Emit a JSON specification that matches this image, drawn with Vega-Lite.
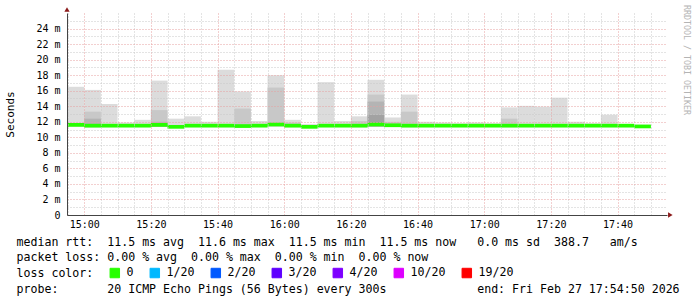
{
  "$schema": "https://vega.github.io/schema/vega-lite/v6.json",
  "width": 600,
  "height": 202,
  "autosize": {"type": "none"},
  "padding": {"left": 67, "top": 13, "right": 30, "bottom": 82},
  "background": "white",
  "config": {"view": {"stroke": null}},
  "title": {
    "text": "RRDTOOL / TOBI OETIKER",
    "orient": "right",
    "anchor": "start",
    "frame": "group",
    "angle": 90,
    "baseline": "middle",
    "offset": -1,
    "dx": -8,
    "font": "DejaVu Sans Mono",
    "fontSize": 8.3,
    "fontWeight": "normal",
    "color": "#b4b4b4"
  },
  "datasets": {
    "smoke": [
      {"t": "2026-02-27T14:55:00", "t2": "2026-02-27T15:00:00", "y": 11.35, "hi": 16.5},
      {"t": "2026-02-27T15:00:00", "t2": "2026-02-27T15:05:00", "y": 11.3, "hi": 16.1, "m1": 13.3, "m2": 12.4},
      {"t": "2026-02-27T15:05:00", "t2": "2026-02-27T15:10:00", "y": 11.3, "hi": 14.3},
      {"t": "2026-02-27T15:10:00", "t2": "2026-02-27T15:15:00", "y": 11.3, "hi": 11.9},
      {"t": "2026-02-27T15:15:00", "t2": "2026-02-27T15:20:00", "y": 11.3, "hi": 12.25},
      {"t": "2026-02-27T15:20:00", "t2": "2026-02-27T15:25:00", "y": 11.35, "hi": 17.3, "m1": 13.5, "m2": 12.0},
      {"t": "2026-02-27T15:25:00", "t2": "2026-02-27T15:30:00", "y": 11.15, "hi": 12.4},
      {"t": "2026-02-27T15:30:00", "t2": "2026-02-27T15:35:00", "y": 11.3, "hi": 12.7},
      {"t": "2026-02-27T15:35:00", "t2": "2026-02-27T15:40:00", "y": 11.3, "hi": 12.0},
      {"t": "2026-02-27T15:40:00", "t2": "2026-02-27T15:45:00", "y": 11.3, "hi": 18.7},
      {"t": "2026-02-27T15:45:00", "t2": "2026-02-27T15:50:00", "y": 11.25, "hi": 15.9, "m1": 13.7},
      {"t": "2026-02-27T15:50:00", "t2": "2026-02-27T15:55:00", "y": 11.3, "hi": 12.1},
      {"t": "2026-02-27T15:55:00", "t2": "2026-02-27T16:00:00", "y": 11.4, "hi": 18.0, "m1": 16.4},
      {"t": "2026-02-27T16:00:00", "t2": "2026-02-27T16:05:00", "y": 11.3, "hi": 12.25, "m1": 11.9},
      {"t": "2026-02-27T16:05:00", "t2": "2026-02-27T16:10:00", "y": 11.15, "hi": 11.7},
      {"t": "2026-02-27T16:10:00", "t2": "2026-02-27T16:15:00", "y": 11.3, "hi": 17.1},
      {"t": "2026-02-27T16:15:00", "t2": "2026-02-27T16:20:00", "y": 11.3, "hi": 12.1},
      {"t": "2026-02-27T16:20:00", "t2": "2026-02-27T16:25:00", "y": 11.3, "hi": 12.7, "m1": 12.1},
      {"t": "2026-02-27T16:25:00", "t2": "2026-02-27T16:30:00", "y": 11.4, "hi": 17.4, "m1": 15.5, "m2": 14.6, "m3": 12.9},
      {"t": "2026-02-27T16:30:00", "t2": "2026-02-27T16:35:00", "y": 11.35, "hi": 12.55, "m1": 12.0},
      {"t": "2026-02-27T16:35:00", "t2": "2026-02-27T16:40:00", "y": 11.3, "hi": 15.5, "m1": 13.3},
      {"t": "2026-02-27T16:40:00", "t2": "2026-02-27T16:45:00", "y": 11.3, "hi": 12.0},
      {"t": "2026-02-27T16:45:00", "t2": "2026-02-27T16:50:00", "y": 11.3, "hi": 11.9},
      {"t": "2026-02-27T16:50:00", "t2": "2026-02-27T16:55:00", "y": 11.3, "hi": 11.8},
      {"t": "2026-02-27T16:55:00", "t2": "2026-02-27T17:00:00", "y": 11.3, "hi": 11.9},
      {"t": "2026-02-27T17:00:00", "t2": "2026-02-27T17:05:00", "y": 11.3, "hi": 11.8},
      {"t": "2026-02-27T17:05:00", "t2": "2026-02-27T17:10:00", "y": 11.3, "hi": 13.85, "m1": 12.4},
      {"t": "2026-02-27T17:10:00", "t2": "2026-02-27T17:15:00", "y": 11.3, "hi": 14.05},
      {"t": "2026-02-27T17:15:00", "t2": "2026-02-27T17:20:00", "y": 11.3, "hi": 13.95},
      {"t": "2026-02-27T17:20:00", "t2": "2026-02-27T17:25:00", "y": 11.3, "hi": 15.1},
      {"t": "2026-02-27T17:25:00", "t2": "2026-02-27T17:30:00", "y": 11.3, "hi": 12.0},
      {"t": "2026-02-27T17:30:00", "t2": "2026-02-27T17:35:00", "y": 11.3, "hi": 11.8},
      {"t": "2026-02-27T17:35:00", "t2": "2026-02-27T17:40:00", "y": 11.3, "hi": 12.9},
      {"t": "2026-02-27T17:40:00", "t2": "2026-02-27T17:45:00", "y": 11.3, "hi": 11.7},
      {"t": "2026-02-27T17:45:00", "t2": "2026-02-27T17:50:00", "y": 11.2, "hi": 11.6}
    ],
    "median": [
      {"t": "2026-02-27T14:55:00", "t2": "2026-02-27T15:00:00", "y": 11.6, "loss": "0"},
      {"t": "2026-02-27T15:00:00", "t2": "2026-02-27T15:05:00", "y": 11.5, "loss": "0"},
      {"t": "2026-02-27T15:05:00", "t2": "2026-02-27T15:10:00", "y": 11.5, "loss": "0"},
      {"t": "2026-02-27T15:10:00", "t2": "2026-02-27T15:15:00", "y": 11.5, "loss": "0"},
      {"t": "2026-02-27T15:15:00", "t2": "2026-02-27T15:20:00", "y": 11.5, "loss": "0"},
      {"t": "2026-02-27T15:20:00", "t2": "2026-02-27T15:25:00", "y": 11.6, "loss": "0"},
      {"t": "2026-02-27T15:25:00", "t2": "2026-02-27T15:30:00", "y": 11.35, "loss": "0"},
      {"t": "2026-02-27T15:30:00", "t2": "2026-02-27T15:35:00", "y": 11.5, "loss": "0"},
      {"t": "2026-02-27T15:35:00", "t2": "2026-02-27T15:40:00", "y": 11.5, "loss": "0"},
      {"t": "2026-02-27T15:40:00", "t2": "2026-02-27T15:45:00", "y": 11.5, "loss": "0"},
      {"t": "2026-02-27T15:45:00", "t2": "2026-02-27T15:50:00", "y": 11.45, "loss": "0"},
      {"t": "2026-02-27T15:50:00", "t2": "2026-02-27T15:55:00", "y": 11.5, "loss": "0"},
      {"t": "2026-02-27T15:55:00", "t2": "2026-02-27T16:00:00", "y": 11.65, "loss": "0"},
      {"t": "2026-02-27T16:00:00", "t2": "2026-02-27T16:05:00", "y": 11.5, "loss": "0"},
      {"t": "2026-02-27T16:05:00", "t2": "2026-02-27T16:10:00", "y": 11.35, "loss": "0"},
      {"t": "2026-02-27T16:10:00", "t2": "2026-02-27T16:15:00", "y": 11.5, "loss": "0"},
      {"t": "2026-02-27T16:15:00", "t2": "2026-02-27T16:20:00", "y": 11.5, "loss": "0"},
      {"t": "2026-02-27T16:20:00", "t2": "2026-02-27T16:25:00", "y": 11.5, "loss": "0"},
      {"t": "2026-02-27T16:25:00", "t2": "2026-02-27T16:30:00", "y": 11.65, "loss": "0"},
      {"t": "2026-02-27T16:30:00", "t2": "2026-02-27T16:35:00", "y": 11.55, "loss": "0"},
      {"t": "2026-02-27T16:35:00", "t2": "2026-02-27T16:40:00", "y": 11.5, "loss": "0"},
      {"t": "2026-02-27T16:40:00", "t2": "2026-02-27T16:45:00", "y": 11.5, "loss": "0"},
      {"t": "2026-02-27T16:45:00", "t2": "2026-02-27T16:50:00", "y": 11.5, "loss": "0"},
      {"t": "2026-02-27T16:50:00", "t2": "2026-02-27T16:55:00", "y": 11.5, "loss": "0"},
      {"t": "2026-02-27T16:55:00", "t2": "2026-02-27T17:00:00", "y": 11.5, "loss": "0"},
      {"t": "2026-02-27T17:00:00", "t2": "2026-02-27T17:05:00", "y": 11.5, "loss": "0"},
      {"t": "2026-02-27T17:05:00", "t2": "2026-02-27T17:10:00", "y": 11.5, "loss": "0"},
      {"t": "2026-02-27T17:10:00", "t2": "2026-02-27T17:15:00", "y": 11.5, "loss": "0"},
      {"t": "2026-02-27T17:15:00", "t2": "2026-02-27T17:20:00", "y": 11.5, "loss": "0"},
      {"t": "2026-02-27T17:20:00", "t2": "2026-02-27T17:25:00", "y": 11.5, "loss": "0"},
      {"t": "2026-02-27T17:25:00", "t2": "2026-02-27T17:30:00", "y": 11.5, "loss": "0"},
      {"t": "2026-02-27T17:30:00", "t2": "2026-02-27T17:35:00", "y": 11.5, "loss": "0"},
      {"t": "2026-02-27T17:35:00", "t2": "2026-02-27T17:40:00", "y": 11.5, "loss": "0"},
      {"t": "2026-02-27T17:40:00", "t2": "2026-02-27T17:45:00", "y": 11.5, "loss": "0"},
      {"t": "2026-02-27T17:45:00", "t2": "2026-02-27T17:50:00", "y": 11.4, "loss": "0"}
    ],
    "arrows": [
      {"t": "2026-02-27T17:55:50", "y": 0, "shape": "triangle-right"},
      {"t": "2026-02-27T14:54:50", "y": 26.45, "shape": "triangle-up"}
    ]
  },
  "data": {"name": "smoke"},
  "encoding": {
    "x": {
      "field": "t",
      "type": "temporal",
      "scale": {
        "domain": [
          {"year": 2026, "month": 2, "date": 27, "hours": 14, "minutes": 54, "seconds": 50},
          {"year": 2026, "month": 2, "date": 27, "hours": 17, "minutes": 54, "seconds": 50}
        ],
        "nice": false
      },
      "axis": {
        "title": [
          "median\u00a0rtt:\u00a0\u00a011.5\u00a0ms\u00a0avg\u00a0\u00a011.6\u00a0ms\u00a0max\u00a0\u00a011.5\u00a0ms\u00a0min\u00a0\u00a011.5\u00a0ms\u00a0now\u00a0\u00a0\u00a00.0\u00a0ms\u00a0sd\u00a0\u00a0388.7\u00a0\u00a0\u00a0am/s",
          "packet\u00a0loss:\u00a00.00\u00a0%\u00a0avg\u00a0\u00a00.00\u00a0%\u00a0max\u00a0\u00a00.00\u00a0%\u00a0min\u00a0\u00a00.00\u00a0%\u00a0now",
          "loss\u00a0color:",
          "probe:\u00a0\u00a0\u00a0\u00a0\u00a0\u00a0\u00a020\u00a0ICMP\u00a0Echo\u00a0Pings\u00a0(56\u00a0Bytes)\u00a0every\u00a0300s\u00a0\u00a0\u00a0\u00a0\u00a0\u00a0\u00a0\u00a0\u00a0\u00a0\u00a0\u00a0\u00a0end:\u00a0Fri\u00a0Feb\u00a027\u00a017:54:50\u00a02026"
        ],
        "titleX": -51,
        "titleY": 30,
        "titleAlign": "left",
        "titleBaseline": "alphabetic",
        "titleFont": "DejaVu Sans Mono",
        "titleFontSize": 11.6,
        "titleFontWeight": "normal",
        "titleLineHeight": 15.7,
        "titleColor": "#000000",
        "values": [
          {"year": 2026, "month": 2, "date": 27, "hours": 14, "minutes": 55},
          {"year": 2026, "month": 2, "date": 27, "hours": 15, "minutes": 0},
          {"year": 2026, "month": 2, "date": 27, "hours": 15, "minutes": 5},
          {"year": 2026, "month": 2, "date": 27, "hours": 15, "minutes": 10},
          {"year": 2026, "month": 2, "date": 27, "hours": 15, "minutes": 15},
          {"year": 2026, "month": 2, "date": 27, "hours": 15, "minutes": 20},
          {"year": 2026, "month": 2, "date": 27, "hours": 15, "minutes": 25},
          {"year": 2026, "month": 2, "date": 27, "hours": 15, "minutes": 30},
          {"year": 2026, "month": 2, "date": 27, "hours": 15, "minutes": 35},
          {"year": 2026, "month": 2, "date": 27, "hours": 15, "minutes": 40},
          {"year": 2026, "month": 2, "date": 27, "hours": 15, "minutes": 45},
          {"year": 2026, "month": 2, "date": 27, "hours": 15, "minutes": 50},
          {"year": 2026, "month": 2, "date": 27, "hours": 15, "minutes": 55},
          {"year": 2026, "month": 2, "date": 27, "hours": 16, "minutes": 0},
          {"year": 2026, "month": 2, "date": 27, "hours": 16, "minutes": 5},
          {"year": 2026, "month": 2, "date": 27, "hours": 16, "minutes": 10},
          {"year": 2026, "month": 2, "date": 27, "hours": 16, "minutes": 15},
          {"year": 2026, "month": 2, "date": 27, "hours": 16, "minutes": 20},
          {"year": 2026, "month": 2, "date": 27, "hours": 16, "minutes": 25},
          {"year": 2026, "month": 2, "date": 27, "hours": 16, "minutes": 30},
          {"year": 2026, "month": 2, "date": 27, "hours": 16, "minutes": 35},
          {"year": 2026, "month": 2, "date": 27, "hours": 16, "minutes": 40},
          {"year": 2026, "month": 2, "date": 27, "hours": 16, "minutes": 45},
          {"year": 2026, "month": 2, "date": 27, "hours": 16, "minutes": 50},
          {"year": 2026, "month": 2, "date": 27, "hours": 16, "minutes": 55},
          {"year": 2026, "month": 2, "date": 27, "hours": 17, "minutes": 0},
          {"year": 2026, "month": 2, "date": 27, "hours": 17, "minutes": 5},
          {"year": 2026, "month": 2, "date": 27, "hours": 17, "minutes": 10},
          {"year": 2026, "month": 2, "date": 27, "hours": 17, "minutes": 15},
          {"year": 2026, "month": 2, "date": 27, "hours": 17, "minutes": 20},
          {"year": 2026, "month": 2, "date": 27, "hours": 17, "minutes": 25},
          {"year": 2026, "month": 2, "date": 27, "hours": 17, "minutes": 30},
          {"year": 2026, "month": 2, "date": 27, "hours": 17, "minutes": 35},
          {"year": 2026, "month": 2, "date": 27, "hours": 17, "minutes": 40},
          {"year": 2026, "month": 2, "date": 27, "hours": 17, "minutes": 45},
          {"year": 2026, "month": 2, "date": 27, "hours": 17, "minutes": 50}
        ],
        "labelExpr": "minutes(datum.value) % 20 == 0 ? timeFormat(datum.value, '%H:%M') : ''",
        "labelFont": "DejaVu Sans Mono",
        "labelFontSize": 10,
        "labelColor": "#000000",
        "labelPadding": 4,
        "labelFlush": false,
        "labelOverlap": false,
        "labelBound": false,
        "ticks": false,
        "tickSize": 0,
        "grid": true,
        "gridColor": {"condition": {"test": "minutes(datum.value) % 20 == 0", "value": "#e6a0a0"}, "value": "#c8c8c8"},
        "gridDash": [1, 2],
        "gridWidth": 1,
        "domainColor": "#444444",
        "domainWidth": 1,
        "zindex": 1
      }
    },
    "x2": {"field": "t2"},
    "y": {
      "field": "y",
      "type": "quantitative",
      "scale": {"domain": [0, 26], "nice": false},
      "axis": {
        "title": "Seconds",
        "titleX": -57,
        "titleY": 101,
        "titleAngle": -90,
        "titleAlign": "center",
        "titleBaseline": "middle",
        "titleFont": "DejaVu Sans Mono",
        "titleFontSize": 11,
        "titleFontWeight": "normal",
        "titleColor": "#000000",
        "values": [0, 1, 2, 3, 4, 5, 6, 7, 8, 9, 10, 11, 12, 13, 14, 15, 16, 17, 18, 19, 20, 21, 22, 23, 24, 25],
        "labelExpr": "datum.value % 2 == 0 ? (datum.value == 0 ? '0' : datum.value + ' m') : ''",
        "labelFont": "DejaVu Sans Mono",
        "labelFontSize": 10,
        "labelColor": "#000000",
        "labelPadding": 7,
        "labelOverlap": false,
        "ticks": false,
        "tickSize": 0,
        "grid": true,
        "gridColor": {"condition": {"test": "datum.value % 2 == 0", "value": "#e6a0a0"}, "value": "#c8c8c8"},
        "gridDash": [1, 2],
        "gridWidth": 1,
        "domainColor": "#444444",
        "zindex": 1
      }
    }
  },
  "layer": [
    {"mark": {"type": "bar", "color": "#dcdcdc"}, "encoding": {"y2": {"field": "hi"}}},
    {"mark": {"type": "bar", "color": "#c8c8c8"}, "encoding": {"y2": {"field": "m1"}}},
    {"mark": {"type": "bar", "color": "#b4b4b4"}, "encoding": {"y2": {"field": "m2"}}},
    {"mark": {"type": "bar", "color": "#a2a2a2"}, "encoding": {"y2": {"field": "m3"}}},
    {
      "data": {"name": "median"},
      "mark": {"type": "rule", "strokeWidth": 3.7, "strokeCap": "butt"},
      "encoding": {
        "color": {
          "field": "loss",
          "type": "nominal",
          "scale": {
            "domain": ["0", "1/20", "2/20", "3/20", "4/20", "10/20", "19/20"],
            "range": ["#26ff00", "#00b8ff", "#0059ff", "#5e00ff", "#7e00ff", "#dd00ff", "#ff0000"]
          },
          "legend": {
            "orient": "none",
            "legendX": 42,
            "legendY": 254,
            "direction": "horizontal",
            "title": null,
            "symbolType": "square",
            "symbolSize": 90,
            "symbolStrokeWidth": 1,
            "labelFont": "DejaVu Sans Mono",
            "labelFontSize": 11.6,
            "labelColor": "#000000",
            "labelOffset": 6,
            "columnPadding": 14,
            "padding": 0,
            "encode": {
              "symbols": {
                "update": {
                  "fill": {"scale": "color", "field": "value"},
                  "stroke": {"value": "#000000"},
                  "strokeWidth": {"value": 1},
                  "opacity": {"value": 1},
                  "fillOpacity": {"value": 1}
                }
              }
            }
          }
        }
      }
    },
    {
      "data": {"name": "arrows"},
      "mark": {"type": "point", "filled": true, "color": "#8b1a1a", "size": 28, "opacity": 1},
      "encoding": {
        "x2": null,
        "shape": {"field": "shape", "type": "nominal", "scale": null}
      }
    }
  ]
}
